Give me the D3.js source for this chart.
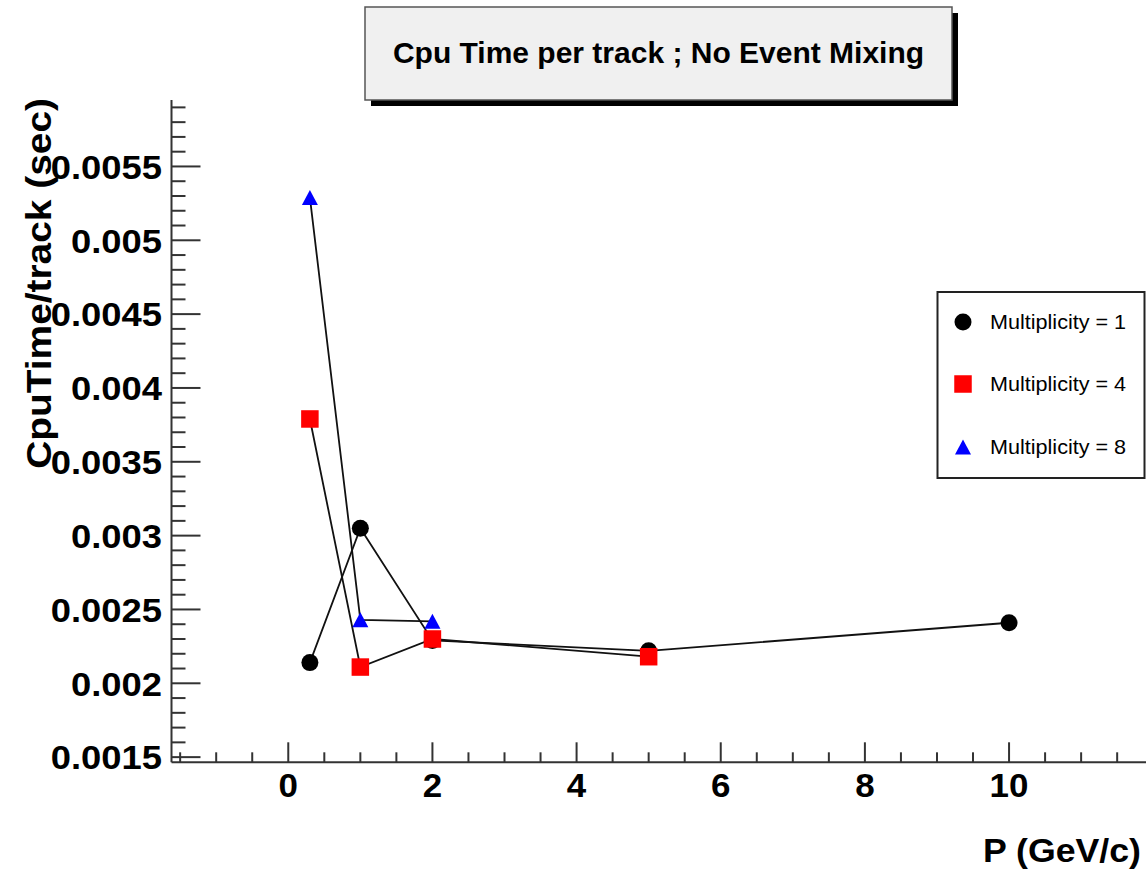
<!DOCTYPE html>
<html>
<head>
<meta charset="utf-8">
<script src="https://cdn.jsdelivr.net/npm/d3@7"></script>
<style>
  html, body { margin: 0; padding: 0; background: #ffffff; }
  svg { display: block; font-family: "Liberation Sans", Arial, Helvetica, sans-serif; }
</style>
</head>
<body>
<svg id="chart" width="1146" height="871"></svg>
<script>
// Momentum points (GeV/c) for each multiplicity sample
const pMult1 = [0.3, 1, 2, 5, 10];
const cpuMult1 = [0.00214, 0.00305, 0.00229, 0.00222, 0.00241];

const pMult4 = [0.3, 1, 2, 5];
const cpuMult4 = [0.00379, 0.00211, 0.00230, 0.00218];

const pMult8 = [0.3, 1, 2];
const cpuMult8 = [0.00529, 0.00243, 0.00242];

const seriesNames = ["Multiplicity = 1", "Multiplicity = 4", "Multiplicity = 8"];

const xTickLabels = [0, 2, 4, 6, 8, 10];
const yTickLabels = [0.0015, 0.002, 0.0025, 0.003, 0.0035, 0.004, 0.0045, 0.005, 0.0055];

const titleText = "Cpu Time per track ; No Event Mixing";
const xTitle = "P (GeV/c)";
const yTitle = "CpuTime/track (sec)";

(function () {
  const svg = d3.select("#chart");

  // frame geometry
  const fLeft = 171.5, fRight = 1146, fTop = 100, fBottom = 762.3;

  const x = d3.scaleLinear().domain([-1.62, 11.9]).range([fLeft, fRight]);
  const y = d3.scaleLinear().domain([0.001465, 0.00595]).range([fBottom, fTop]);

  const axisColor = "#333";

  // ---- axes ----
  const gAx = svg.append("g");

  // minor + major ticks on the x axis
  const xMinor = d3.range(-1.5, 11.91, 0.5);
  gAx.selectAll("line.xt").data(xMinor).enter().append("line")
    .attr("x1", d => x(d)).attr("x2", d => x(d))
    .attr("y1", fBottom)
    .attr("y2", d => Math.abs(d / 2 - Math.round(d / 2)) < 1e-6 ? fBottom - 20 : fBottom - 10)
    .attr("stroke", axisColor).attr("stroke-width", 2);

  // minor + major ticks on the y axis
  const yMinor = d3.range(15, 60, 1).map(v => v / 10000);
  gAx.selectAll("line.yt").data(yMinor).enter().append("line")
    .attr("y1", d => y(d)).attr("y2", d => y(d))
    .attr("x1", fLeft)
    .attr("x2", d => (Math.round(d * 10000) % 5 === 0) ? fLeft + 29 : fLeft + 14)
    .attr("stroke", axisColor).attr("stroke-width", 2);

  // axis lines
  gAx.append("line").attr("x1", fLeft).attr("x2", fRight).attr("y1", fBottom).attr("y2", fBottom)
    .attr("stroke", axisColor).attr("stroke-width", 2);
  gAx.append("line").attr("x1", fLeft).attr("x2", fLeft).attr("y1", fTop).attr("y2", fBottom)
    .attr("stroke", axisColor).attr("stroke-width", 2);

  // tick labels (the ROOT-style face is a touch wider than Helvetica)
  gAx.selectAll("text.xl").data(xTickLabels).enter().append("text")
    .attr("transform", d => `translate(${x(d)},797) scale(1.06,1)`)
    .attr("text-anchor", "middle")
    .attr("font-size", 33).attr("font-weight", "bold").attr("fill", "#000")
    .text(d => d);

  gAx.selectAll("text.yl").data(yTickLabels).enter().append("text")
    .attr("transform", d => `translate(162,${y(d)}) scale(1.07,1)`)
    .attr("dy", "0.36em")
    .attr("text-anchor", "end")
    .attr("font-size", 34).attr("font-weight", "bold").attr("fill", "#000")
    .text(d => String(d));

  // axis titles
  svg.append("text")
    .attr("transform", "translate(1141,862) scale(1.05,1)")
    .attr("text-anchor", "end")
    .attr("font-size", 34).attr("font-weight", "bold")
    .text(xTitle);

  svg.append("text")
    .attr("transform", `translate(51,${fTop - 2}) rotate(-90) scale(1.08,1)`)
    .attr("text-anchor", "end")
    .attr("font-size", 36).attr("font-weight", "bold")
    .text(yTitle);

  // ---- data ----
  const lineGen = d3.line().x(d => x(d[0])).y(d => y(d[1]));

  const series = [
    { p: pMult1, v: cpuMult1, color: "#000000", shape: "circle" },
    { p: pMult4, v: cpuMult4, color: "#ff0000", shape: "square" },
    { p: pMult8, v: cpuMult8, color: "#0000ff", shape: "triangle" }
  ];

  function drawMarker(g, shape, color, cx, cy) {
    if (shape === "circle") {
      g.append("circle").attr("cx", cx).attr("cy", cy).attr("r", 8.5).attr("fill", color);
    } else if (shape === "square") {
      g.append("rect").attr("x", cx - 8.75).attr("y", cy - 8.75)
        .attr("width", 17.5).attr("height", 17.5).attr("fill", color);
    } else {
      const w = 16, h = 15;
      g.append("path")
        .attr("d", `M${cx},${cy - h / 2} L${cx + w / 2},${cy + h / 2} L${cx - w / 2},${cy + h / 2} Z`)
        .attr("fill", color);
    }
  }

  series.forEach(s => {
    const pts = s.p.map((p, i) => [p, s.v[i]]);
    const g = svg.append("g");
    g.append("path").datum(pts).attr("d", lineGen)
      .attr("fill", "none").attr("stroke", "#111").attr("stroke-width", 1.8);
    pts.forEach(d => drawMarker(g, s.shape, s.color, x(d[0]), y(d[1])));
  });

  // ---- title box ----
  const tb = { x: 365, y: 7, w: 587, h: 93 };
  svg.append("rect").attr("x", tb.x + 6).attr("y", tb.y + 6).attr("width", tb.w).attr("height", tb.h)
    .attr("fill", "#000");
  svg.append("rect").attr("x", tb.x).attr("y", tb.y).attr("width", tb.w).attr("height", tb.h)
    .attr("fill", "#f0f0f0").attr("stroke", "#555").attr("stroke-width", 1.5);
  svg.append("text")
    .attr("x", tb.x + tb.w / 2).attr("y", 63)
    .attr("text-anchor", "middle")
    .attr("font-size", 30).attr("font-weight", "bold")
    .text(titleText);

  // ---- legend ----
  const lg = { x: 937.5, y: 292, w: 207, h: 186 };
  svg.append("rect").attr("x", lg.x).attr("y", lg.y).attr("width", lg.w).attr("height", lg.h)
    .attr("fill", "#fff").attr("stroke", "#222").attr("stroke-width", 2);
  const legendY = [322, 384, 447];
  series.forEach((s, i) => {
    const g = svg.append("g");
    drawMarker(g, s.shape, s.color, 963, legendY[i]);
    g.append("text")
      .attr("transform", `translate(990,${legendY[i]}) scale(1.08,1)`)
      .attr("dy", "0.35em")
      .attr("font-size", 20).attr("fill", "#000")
      .text(seriesNames[i]);
  });
})();
</script>
</body>
</html>
